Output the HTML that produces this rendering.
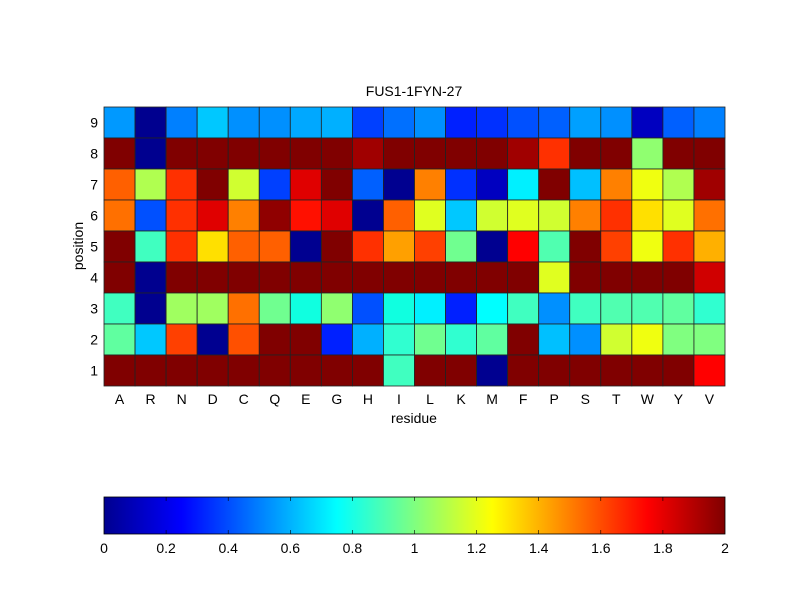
<!DOCTYPE html>
<html><head><meta charset="utf-8"><style>
body{margin:0;background:#fff;}
svg text{font-family:"Liberation Sans",Arial,sans-serif;font-size:14px;fill:#000;}
</style></head><body>
<svg width="800" height="600" xmlns="http://www.w3.org/2000/svg">
<defs><linearGradient id="jet" x1="0" x2="1" y1="0" y2="0">
<stop offset="0" stop-color="#00008f"/><stop offset="0.125" stop-color="#0000ff"/>
<stop offset="0.375" stop-color="#00ffff"/><stop offset="0.625" stop-color="#ffff00"/>
<stop offset="0.875" stop-color="#ff0000"/><stop offset="1" stop-color="#800000"/>
</linearGradient></defs>
<rect width="800" height="600" fill="#fff"/>
<g id="grid" stroke="#222" stroke-width="0.8"></g>
<text x="414" y="96" text-anchor="middle">FUS1-1FYN-27</text>
<g id="yl" text-anchor="end"></g>
<g id="xl" text-anchor="middle"></g>
<text x="414" y="423" text-anchor="middle">residue</text>
<text transform="translate(83,246) rotate(-90)" text-anchor="middle">position</text>
<rect x="104" y="497" width="621" height="37" fill="url(#jet)" stroke="#000" stroke-width="0.8"/>
<g id="cb" text-anchor="middle"></g>
</svg>
<script>
const rows={
9:["#0099ff","#00008f","#0080ff","#00c8ff","#0090ff","#0090ff","#00a8ff","#00b0ff","#0040ff","#0070ff","#0090ff","#0020ff","#0030ff","#0050ff","#0060ff","#00a0ff","#0090ff","#0000c0","#0060ff","#0080ff"],
8:["#800000","#00008f","#800000","#800000","#800000","#800000","#800000","#800000","#a00000","#800000","#800000","#800000","#800000","#a00000","#ff3000","#800000","#800000","#90ff70","#800000","#800000"],
7:["#ff6000","#b0ff50","#ff3000","#800000","#d0ff30","#0040ff","#e00000","#800000","#0060ff","#000090","#ff8000","#0030ff","#0000c0","#00f0ff","#800000","#00c0ff","#ff8000","#f0ff10","#b0ff50","#a00000"],
6:["#ff7000","#0050ff","#ff3000","#e00000","#ff8000","#900000","#ff1000","#e00000","#000090","#ff6000","#e0ff20","#00c8ff","#d0ff30","#e0ff20","#d0ff30","#ff8000","#ff3000","#ffe000","#e0ff20","#ff7000"],
5:["#800000","#40ffc0","#ff3000","#ffe000","#ff6000","#ff6000","#000090","#800000","#ff3000","#ffa000","#ff4000","#70ff90","#000090","#ff0000","#50ffb0","#800000","#ff4000","#f0ff10","#ff3000","#ffb000"],
4:["#800000","#00008f","#800000","#800000","#800000","#800000","#800000","#800000","#800000","#800000","#800000","#800000","#800000","#800000","#e0ff20","#800000","#800000","#800000","#800000","#d00000"],
3:["#40ffc0","#00008f","#a0ff60","#a0ff60","#ff7000","#70ff90","#10ffe0","#90ff70","#0050ff","#10ffe0","#00f0ff","#0020ff","#00ffff","#40ffc0","#0090ff","#40ffc0","#50ffb0","#50ffb0","#60ffa0","#30ffd0"],
2:["#60ffa0","#00c8ff","#ff4000","#000090","#ff5000","#800000","#800000","#0020ff","#00b0ff","#30ffd0","#70ff90","#30ffd0","#60ffa0","#800000","#00c0ff","#0090ff","#d0ff30","#f0ff10","#80ff80","#80ff80"],
1:["#800000","#800000","#800000","#800000","#800000","#800000","#800000","#800000","#800000","#40ffc0","#800000","#800000","#000090","#800000","#800000","#800000","#800000","#800000","#800000","#ff0000"]};
const res="A R N D C Q E G H I L K M F P S T W Y V".split(" ");
const NS="http://www.w3.org/2000/svg";
const x0=104,y0=107,cw=621/20,rh=279/9;
const g=document.getElementById("grid"),yl=document.getElementById("yl"),xl=document.getElementById("xl"),cb=document.getElementById("cb");
function el(p,t,a,txt){const e=document.createElementNS(NS,t);for(const k in a)e.setAttribute(k,a[k]);if(txt!==undefined)e.textContent=txt;p.appendChild(e);}
for(let r=9;r>=1;r--){const i=9-r;
 rows[r].forEach((c,j)=>el(g,"rect",{x:x0+j*cw,y:y0+i*rh,width:cw,height:rh,fill:c}));
 el(yl,"text",{x:98,y:y0+i*rh+rh/2+5},String(r));}
res.forEach((s,j)=>el(xl,"text",{x:x0+j*cw+cw/2,y:404},s));
for(let k=0;k<=10;k++){const v=k*0.2;const x=104+k*62.1;
 el(cb,"text",{x:x,y:553},k==0?"0":k==5?"1":k==10?"2":v.toFixed(1));
 if(k>0&&k<10){el(cb,"line",{x1:x,x2:x,y1:497,y2:501,stroke:"#000","stroke-width":0.6});el(cb,"line",{x1:x,x2:x,y1:530,y2:534,stroke:"#000","stroke-width":0.6});}}
</script>
</body></html>
